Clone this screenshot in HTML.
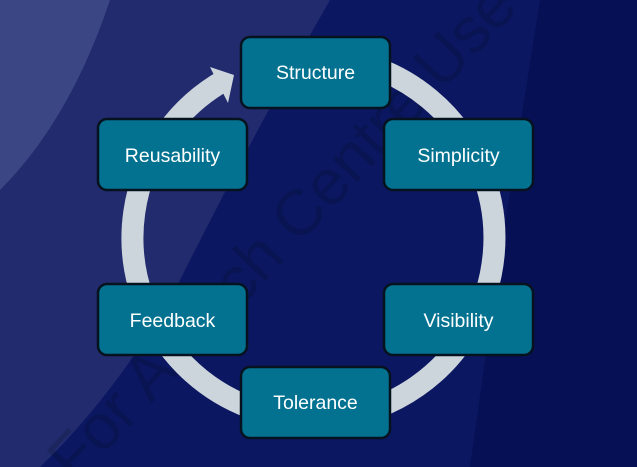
<!DOCTYPE html>
<html><head><meta charset="utf-8"><style>
html,body{margin:0;padding:0;width:637px;height:467px;overflow:hidden;background:#0b1760}
svg{display:block;overflow:hidden}
</style></head><body>
<svg width="637" height="467" viewBox="0 0 637 467" xmlns="http://www.w3.org/2000/svg">
<defs><clipPath id="c"><rect width="637" height="467"/></clipPath></defs>
<g clip-path="url(#c)">
<rect width="637" height="467" fill="#0b1760"/>
<path d="M540 0 Q500 250 470 467 L637 467 L637 0 Z" fill="#050f52" opacity="0.8"/>
<path d="M0 0 L330 0 Q250 140 180 280 Q120 390 40 467 L0 467 Z" fill="#212b6d"/>
<path d="M0 0 L110 0 Q70 120 0 190 Z" fill="#3a4784"/>
<text x="0" y="0" transform="translate(285,235) rotate(-47)" text-anchor="middle" dominant-baseline="middle" font-family="Liberation Sans, sans-serif" font-size="64" fill="#000" fill-opacity="0.13">For Aptech Centre Use</text>
<path d="M225 80 A181 181 0 1 0 360 63" fill="none" stroke="#ccd4dc" stroke-width="22"/>
<polygon points="210,67 234,75 228,103" fill="#ccd4dc"/>
<g font-family="Liberation Sans, sans-serif" font-size="19.5" fill="#fff" text-anchor="middle">
<rect x="241" y="37" width="149" height="71" rx="9" fill="#037290" stroke="#06121e" stroke-width="2.5"/>
<text x="315.5" y="79">Structure</text>
<rect x="98" y="119" width="149" height="71" rx="9" fill="#037290" stroke="#06121e" stroke-width="2.5"/>
<text x="172.5" y="162">Reusability</text>
<rect x="384" y="119" width="149" height="71" rx="9" fill="#037290" stroke="#06121e" stroke-width="2.5"/>
<text x="458.5" y="162">Simplicity</text>
<rect x="98" y="284" width="149" height="71" rx="9" fill="#037290" stroke="#06121e" stroke-width="2.5"/>
<text x="172.5" y="327">Feedback</text>
<rect x="384" y="284" width="149" height="71" rx="9" fill="#037290" stroke="#06121e" stroke-width="2.5"/>
<text x="458.5" y="327">Visibility</text>
<rect x="241" y="367" width="149" height="71" rx="9" fill="#037290" stroke="#06121e" stroke-width="2.5"/>
<text x="315.5" y="409">Tolerance</text>
</g>
</g>
</svg>
</body></html>
